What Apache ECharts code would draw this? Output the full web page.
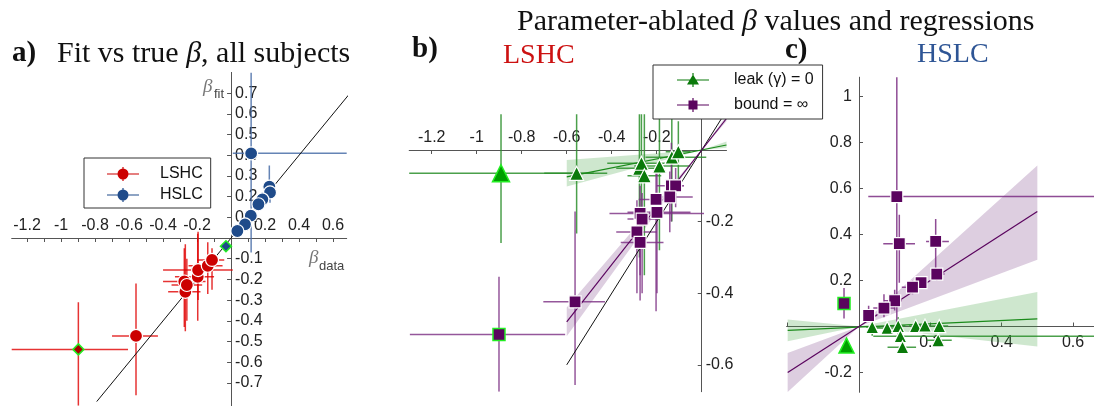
<!DOCTYPE html>
<html><head><meta charset="utf-8">
<script src="https://cdn.jsdelivr.net/npm/echarts@6/dist/echarts.min.js"></script>
<style>html,body{margin:0;padding:0;background:#fff}#c{width:1094px;height:406px}</style>
</head><body><div id="c"></div>
<script>
// columns: x, y, xLow, xHigh, yLow, yHigh, outlier flag
const aLSHC = [
 [-0.898,-0.538,-1.29,-0.606,-0.81,-0.31,1],
 [-0.559,-0.473,-0.70,-0.43,-0.76,-0.22,0],
 [-0.269,-0.260,-0.37,-0.18,-0.45,-0.03,0],
 [-0.275,-0.210,-0.40,-0.15,-0.43,-0.05,0],
 [-0.260,-0.227,-0.35,-0.17,-0.40,-0.10,0],
 [-0.196,-0.187,-0.33,-0.10,-0.40,0.02,0],
 [-0.194,-0.155,-0.40,0.01,-0.30,0.03,0],
 [-0.137,-0.134,-0.25,-0.05,-0.27,-0.02,0],
 [-0.112,-0.106,-0.20,-0.04,-0.25,-0.05,0]
];
const aHSLC = [
 [0.118,0.409,0.01,0.68,-0.07,0.80,0],
 [0.225,0.248,0.20,0.25,0.18,0.35,0],
 [0.229,0.220,0.20,0.26,0.17,0.27,0],
 [0.184,0.187,0.15,0.21,0.15,0.22,0],
 [0.161,0.163,0.13,0.19,0.13,0.20,0],
 [0.116,0.108,0.09,0.14,0.08,0.14,0],
 [0.082,0.066,0.06,0.10,0.04,0.09,0],
 [0.037,0.034,0.02,0.05,0.02,0.05,0],
 [-0.030,-0.040,-0.03,-0.03,-0.04,-0.04,1]
];
const bLeak = [
 [-0.892,-0.065,-1.30,-0.48,-0.26,0.205,1],
 [-0.556,-0.065,-0.70,-0.42,-0.233,0.163,0],
 [-0.277,-0.051,-0.38,-0.18,-0.30,0.12,0],
 [-0.268,-0.037,-0.42,-0.12,-0.25,0.18,0],
 [-0.255,-0.072,-0.33,-0.18,-0.35,0.16,0],
 [-0.188,-0.045,-0.30,-0.05,-0.28,0.17,0],
 [-0.133,-0.020,-0.25,0.02,-0.20,0.10,0],
 [-0.104,-0.005,-0.16,-0.05,-0.08,0.08,0]
];
const bBound = [
 [-0.901,-0.515,-1.297,-0.607,-0.675,-0.354,1],
 [-0.563,-0.424,-0.704,-0.43,-0.656,-0.172,0],
 [-0.274,-0.177,-0.41,0.01,-0.35,-0.10,0],
 [-0.265,-0.193,-0.33,-0.20,-0.40,-0.12,0],
 [-0.288,-0.229,-0.38,-0.20,-0.40,-0.14,0],
 [-0.274,-0.258,-0.36,-0.17,-0.42,-0.16,0],
 [-0.203,-0.138,-0.28,-0.12,-0.45,-0.05,0],
 [-0.199,-0.174,-0.33,-0.05,-0.40,-0.06,0],
 [-0.135,-0.100,-0.20,-0.08,-0.20,0.02,0],
 [-0.116,-0.100,-0.15,-0.08,-0.16,-0.05,0],
 [-0.142,-0.131,-0.23,-0.04,-0.23,-0.06,0]
];
const cLeak = [
 [-0.035,-0.083,-0.035,-0.035,-0.11,-0.06,1],
 [0.037,-0.002,0.02,0.06,-0.04,0.01,0],
 [0.079,-0.006,0.05,0.10,-0.03,0.02,0],
 [0.110,0.002,0.09,0.13,-0.06,0.04,0],
 [0.116,-0.042,0.04,0.70,-0.07,0.00,0],
 [0.122,-0.090,0.08,0.16,-0.12,-0.06,0],
 [0.159,0.002,0.14,0.18,-0.01,0.02,0],
 [0.185,0.004,0.17,0.20,-0.01,0.02,0],
 [0.225,0.002,0.20,0.25,-0.01,0.02,0],
 [0.222,-0.060,0.19,0.26,-0.08,-0.04,0]
];
const cBound = [
 [0.106,0.565,0.026,0.70,-0.01,1.10,0],
 [0.113,0.360,0.068,0.157,0.19,0.486,0],
 [0.215,0.370,0.188,0.252,0.247,0.467,0],
 [0.218,0.228,0.20,0.24,0.20,0.25,0],
 [0.174,0.191,0.15,0.19,0.17,0.21,0],
 [0.150,0.171,0.12,0.17,0.14,0.20,0],
 [0.100,0.112,0.07,0.12,0.07,0.16,0],
 [0.070,0.080,0.04,0.10,0.04,0.14,0],
 [0.027,0.048,0.01,0.05,0.02,0.09,0],
 [-0.042,0.100,-0.042,-0.042,0.035,0.168,1]
];
// regression lines [x, y] and bands [x, low, high]
const aIdentity = [[-0.79,-0.79],[0.69,0.69]];
const bIdentity = [[-0.6,-0.6],[0.1,0.1]];
const bLeakFit = [[-0.6,-0.075],[0.11,0.014]];
const bLeakBand = [[-0.6,-0.102,-0.028],[0,0,0],[0.11,0.006,0.024]];
const bBoundFit = [[-0.6,-0.48],[0.11,0.088]];
const bBoundBand = [[-0.6,-0.52,-0.44],[0,0,0],[0.11,0.08,0.096]];
const cLeakFit = [[-0.2,-0.017],[0.5,0.033]];
const cLeakBand = [[-0.2,-0.064,0.03],[0,0,0],[0.5,-0.087,0.15]];
const cBoundFit = [[-0.2,-0.2],[0.5,0.5]];
const cBoundBand = [[-0.2,-0.285,-0.115],[0,0,0],[0.5,0.29,0.70]];
// ticks and labels
const aXTicks = [-1.2,-1.1,-1,-0.9,-0.8,-0.7,-0.6,-0.5,-0.4,-0.3,-0.2,-0.1,0.1,0.2,0.3,0.4,0.5,0.6];
const aXLabels = [-1.2,-1,-0.8,-0.6,-0.4,-0.2,0.2,0.4,0.6];
const aYTicks = [-0.7,-0.6,-0.5,-0.4,-0.3,-0.2,-0.1,0.1,0.2,0.3,0.4,0.5,0.6,0.7];
const aYLabels = [-0.7,-0.6,-0.5,-0.4,-0.3,-0.2,-0.1,0.1,0.2,0.3,0.4,0.5,0.6,0.7];
const bXTicks = [-1.2,-1,-0.8,-0.6,-0.4,-0.2];
const bXLabels = [-1.2,-1,-0.8,-0.6,-0.4,-0.2];
const bYTicks = [-0.6,-0.4,-0.2];
const bYLabels = [-0.6,-0.4,-0.2];
const cXTicks = [-0.2,0.2,0.4,0.6];
const cXLabels = [0.2,0.4,0.6];
const cYTicks = [-0.2,0.2,0.4,0.6,0.8,1];
const cYLabels = [-0.2,0.2,0.4,0.6,0.8,1];

const SANS = '"Liberation Sans", Arial, sans-serif';
const SERIF = '"Liberation Serif", "Times New Roman", serif';
const RED='#cc0000', BLUE='#1f4b8a', GREEN='#0a7a0a', PURPLE='#5a045e';
const AXC = '#555';

// layout of the three panels
const grids = [
  {left:11.7, top:72.4, width:335, height:333.3, xMin:-1.29, xMax:0.68, yMin:-0.81, yMax:0.80},
  {left:409.2, top:114.2, width:317.3, height:277.5, xMin:-1.30, xMax:0.11, yMin:-0.675, yMax:0.10},
  {left:786.6, top:77.2, width:307.8, height:315.1, xMin:-0.203, xMax:0.66, yMin:-0.286, yMax:1.084}
];
function zeroPos(g){
  const zx = g.left + (0-g.xMin)/(g.xMax-g.xMin)*g.width;
  const zy = g.top + (g.yMax-0)/(g.yMax-g.yMin)*g.height;
  return {zx, zy};
}
function fmt(v){ return String(Math.round(v*10)/10); }

function xAx(gi, pos, ticks, labels, margin){
  const g=grids[gi], z=zeroPos(g);
  const offset = pos==='top' ? -(z.zy-g.top) : -(g.top+g.height-z.zy);
  return {type:'value', gridIndex:gi, min:g.xMin, max:g.xMax, position:pos, offset,
    axisLine:{onZero:false, lineStyle:{color:AXC,width:1}},
    axisTick:{show:true, inside:true, length:4, customValues:ticks, lineStyle:{color:AXC}},
    axisLabel:{customValues:labels, formatter:fmt, color:'#222', fontFamily:SANS, fontSize:16, margin},
    splitLine:{show:false}};
}
function yAx(gi, pos, ticks, labels, margin){
  const g=grids[gi], z=zeroPos(g);
  const offset = pos==='right' ? -(g.left+g.width-z.zx) : -(z.zx-g.left);
  return {type:'value', gridIndex:gi, min:g.yMin, max:g.yMax, position:pos, offset,
    axisLine:{onZero:false, lineStyle:{color:AXC,width:1}},
    axisTick:{show:true, inside:true, length:4, customValues:ticks, lineStyle:{color:AXC}},
    axisLabel:{customValues:labels, formatter:fmt, color:'#222', fontFamily:SANS, fontSize:16, margin},
    splitLine:{show:false}};
}
function errSeries(rows, ai, color, width, opacity){
  return {type:'custom', xAxisIndex:ai, yAxisIndex:ai, clip:true, z:2, silent:true,
    data: rows.map(r=>r.slice(0,6)), encode:{x:0,y:1},
    renderItem:(p,api)=>{
      const x=api.value(0), y=api.value(1);
      const a=api.coord([api.value(2),y]), b=api.coord([api.value(3),y]);
      const c=api.coord([x,api.value(4)]), d=api.coord([x,api.value(5)]);
      const st={stroke:color,lineWidth:width,opacity:opacity};
      return {type:'group', children:[
        {type:'line', shape:{x1:a[0],y1:a[1],x2:b[0],y2:b[1]}, style:st},
        {type:'line', shape:{x1:c[0],y1:c[1],x2:d[0],y2:d[1]}, style:st}]};
    }};
}
function markSeries(name, rows, ai, symbol, size, color, outlier){
  return {type:'scatter', name, xAxisIndex:ai, yAxisIndex:ai, z:5, symbol, symbolSize:size,
    itemStyle:{color, borderColor:'#fff', borderWidth:1.2, opacity:1},
    data: rows.map(r=> r[6] ? Object.assign({value:[r[0],r[1]]}, outlier) : [r[0],r[1]])};
}
function lineSeries(pts, ai, color, width){
  return {type:'line', xAxisIndex:ai, yAxisIndex:ai, data:pts, showSymbol:false, symbol:'none',
    silent:true, z:3, lineStyle:{color, width}};
}
function bandSeries(rows, ai, color){
  return {type:'custom', xAxisIndex:ai, yAxisIndex:ai, clip:true, z:1, silent:true,
    data: rows.map(r=>[r[0], r[1], r[2]]), encode:{x:0,y:1},
    renderItem:(p,api)=>{
      if(p.dataIndex!==0) return null;
      const up = rows.map(r=>api.coord([r[0], r[2]]));
      const lo = rows.slice().reverse().map(r=>api.coord([r[0], r[1]]));
      return {type:'polygon', shape:{points:up.concat(lo)}, style:{fill:color}};
    }};
}
const ICON_C = 'path://M0 6.4H32V7.6H0Z M15.4 0H16.6V14H15.4Z M21.5 7A5.5 5.5 0 1 1 10.5 7A5.5 5.5 0 1 1 21.5 7Z';
const ICON_T = 'path://M0 6.4H32V7.6H0Z M15.4 0H16.6V14H15.4Z M16 1.5L22 11.5L10 11.5Z';
const ICON_S = 'path://M0 6.4H32V7.6H0Z M15.4 0H16.6V14H15.4Z M11.5 2.5H20.5V11.5H11.5Z';

const greenOut = {symbol:'triangle', symbolSize:17, itemStyle:{color:'#00a000', borderColor:'#22ee22', borderWidth:1.5}};
const greenOutC = {symbol:'triangle', symbolSize:15, itemStyle:{color:'#00a000', borderColor:'#22ee22', borderWidth:1.5}};
const purpleOut = {itemStyle:{color:PURPLE, borderColor:'#22ee22', borderWidth:1.5}};

const option = {
  animation:false,
  backgroundColor:'#fff',
  grid: grids.map(g=>({left:g.left, top:g.top, width:g.width, height:g.height, containLabel:false, outerBoundsMode:'none'})),
  xAxis:[
    xAx(0,'top',aXTicks,aXLabels,4),
    xAx(1,'top',bXTicks,bXLabels,4),
    xAx(2,'bottom',cXTicks,cXLabels,8)
  ],
  yAxis:[
    yAx(0,'right',aYTicks,aYLabels,4),
    yAx(1,'right',bYTicks,bYLabels,4),
    yAx(2,'left',cYTicks,cYLabels,7)
  ],
  legend:[
    {left:84, top:158, orient:'vertical', selectedMode:false, itemWidth:32, itemHeight:14, itemGap:5,
     padding:[8,8,5,23], borderColor:'#333', borderWidth:1, backgroundColor:'#fff',
     itemStyle:{borderWidth:0},
     textStyle:{fontFamily:SANS, fontSize:16, color:'#111', lineHeight:16, padding:[0,0,0,16]},
     data:[{name:'LSHC', icon:ICON_C}, {name:'HSLC', icon:ICON_C}]},
    {left:653, top:65, orient:'vertical', selectedMode:false, itemWidth:32, itemHeight:14, itemGap:9,
     padding:[7,9,6,24], borderColor:'#333', borderWidth:1, backgroundColor:'#fff', z:10,
     itemStyle:{borderWidth:0},
     textStyle:{fontFamily:SANS, fontSize:16, color:'#111', lineHeight:16, padding:[0,0,0,20]},
     data:[{name:'leak (γ) = 0', icon:ICON_T}, {name:'bound = ∞', icon:ICON_S}]}
  ],
  graphic:[
    {type:'text', x:12, y:54, style:{text:'a)', font:'bold 29px '+SERIF, fill:'#111', verticalAlign:'middle'}},
    {type:'text', x:57, y:54, style:{text:'Fit vs true {i|β}, all subjects', fontFamily:SERIF, fontSize:30, fill:'#111', verticalAlign:'middle',
      rich:{i:{fontFamily:SERIF, fontSize:30, fontStyle:'italic', fill:'#111'}}}},
    {type:'text', x:517, y:22, style:{text:'Parameter-ablated {i|β} values and regressions', fontFamily:SERIF, fontSize:30, fill:'#111', verticalAlign:'middle',
      rich:{i:{fontFamily:SERIF, fontSize:30, fontStyle:'italic', fill:'#111'}}}},
    {type:'text', x:412, y:50, style:{text:'b)', font:'bold 29px '+SERIF, fill:'#111', verticalAlign:'middle'}},
    {type:'text', x:503, y:56, style:{text:'LSHC', font:'28px '+SERIF, fill:'#cc1111', verticalAlign:'middle'}},
    {type:'text', x:785, y:51, style:{text:'c)', font:'bold 29px '+SERIF, fill:'#111', verticalAlign:'middle'}},
    {type:'text', x:917, y:55, style:{text:'HSLC', font:'28px '+SERIF, fill:'#2e5595', verticalAlign:'middle'}},
    {type:'text', x:203, y:87, style:{text:'β', font:'italic 19px '+SERIF, fill:'#777', verticalAlign:'middle'}},
    {type:'text', x:214, y:94, style:{text:'fit', font:'13px '+SANS, fill:'#444', verticalAlign:'middle'}},
    {type:'text', x:309, y:258, style:{text:'β', font:'italic 19px '+SERIF, fill:'#777', verticalAlign:'middle'}},
    {type:'text', x:319, y:266, style:{text:'data', font:'13px '+SANS, fill:'#444', verticalAlign:'middle'}}
  ],
  series:[
    lineSeries(aIdentity,0,'#111',1),
    errSeries(aLSHC,0,'#e00000',1.5,0.8),
    errSeries(aHSLC,0,'#4a6fa8',1.5,0.85),
    markSeries('LSHC',aLSHC,0,'circle',13,RED,{symbol:'diamond', symbolSize:11, itemStyle:{color:'#aa0000', borderColor:'#22ee22', borderWidth:1.5}}),
    markSeries('HSLC',aHSLC,0,'circle',13,BLUE,{symbol:'diamond', symbolSize:11, itemStyle:{color:BLUE, borderColor:'#22ee22', borderWidth:1.5}}),

    bandSeries(bLeakBand,1,'rgba(60,160,60,0.25)'),
    bandSeries(bBoundBand,1,'rgba(120,60,130,0.25)'),
    lineSeries(bIdentity,1,'#111',1),
    lineSeries(bLeakFit,1,'#1a8a1a',1.2),
    lineSeries(bBoundFit,1,PURPLE,1.2),
    errSeries(bLeak,1,'#2b8f2b',1.5,0.85),
    errSeries(bBound,1,'#7b2d82',1.5,0.8),
    markSeries('leak (γ) = 0',bLeak,1,'triangle',14,GREEN,greenOut),
    markSeries('bound = ∞',bBound,1,'rect',12,PURPLE,purpleOut),

    bandSeries(cLeakBand,2,'rgba(60,160,60,0.25)'),
    bandSeries(cBoundBand,2,'rgba(120,60,130,0.25)'),
    lineSeries(cLeakFit,2,'#1a8a1a',1.2),
    lineSeries(cBoundFit,2,PURPLE,1.2),
    errSeries(cLeak,2,'#2b8f2b',1.5,0.85),
    errSeries(cBound,2,'#7b2d82',1.5,0.85),
    markSeries('leak (γ) = 0',cLeak,2,'triangle',13,GREEN,greenOutC),
    markSeries('bound = ∞',cBound,2,'rect',12,PURPLE,purpleOut)
  ]
};
const chart = echarts.init(document.getElementById('c'), null, {renderer:'canvas'});
chart.setOption(option);
</script></body></html>
